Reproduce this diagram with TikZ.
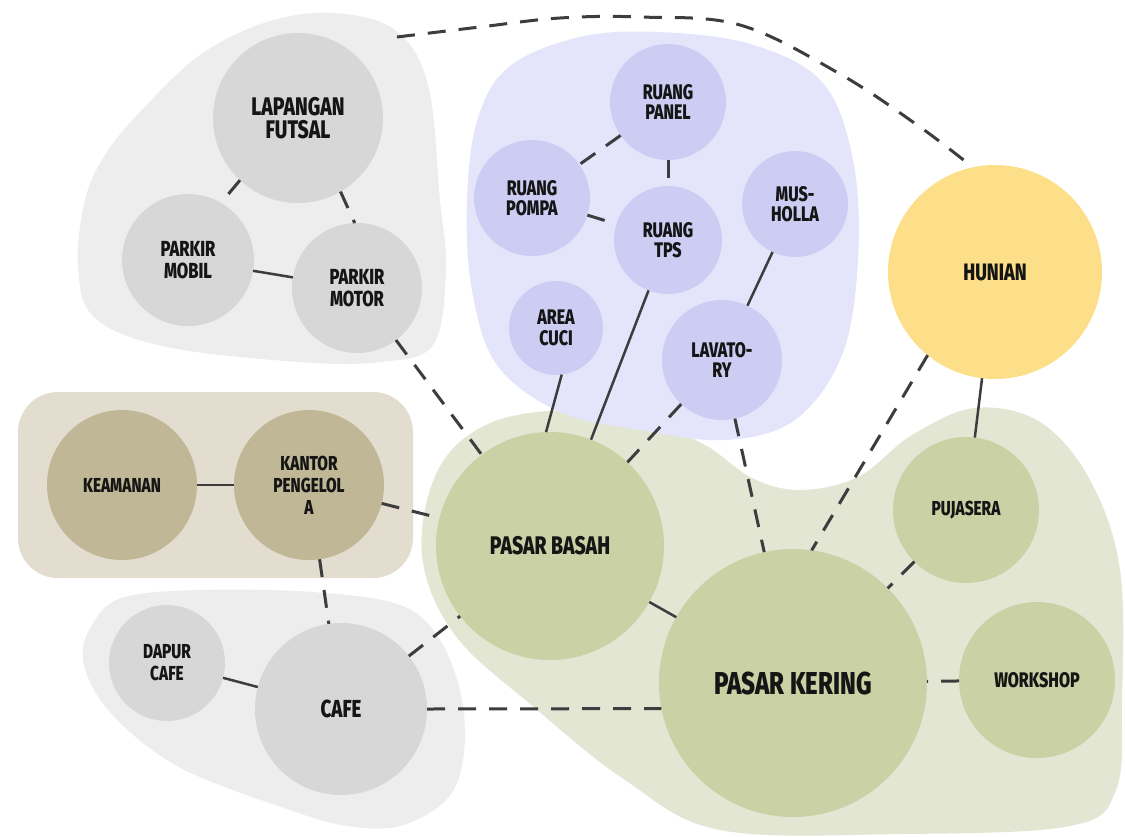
\documentclass[tikz,border=0pt]{standalone}
\usepackage{fontspec}
\newfontfamily\lab{Fira Sans}[FakeStretch=0.76, BoldFont={* ExtraBold}]
\definecolor{greyblob}{HTML}{EDEDED}
\definecolor{greycirc}{HTML}{D7D7D7}
\definecolor{blueblob}{HTML}{E4E4FB}
\definecolor{bluecirc}{HTML}{CDCDF4}
\definecolor{tanbox}{HTML}{E2DDCF}
\definecolor{tancirc}{HTML}{BFB795}
\definecolor{greenblob}{HTML}{E2E6D3}
\definecolor{greencirc}{HTML}{CAD2A5}
\definecolor{yellowcirc}{HTML}{FDDF8A}
\definecolor{txt}{HTML}{151515}
\definecolor{lc}{HTML}{3D3D3D}
\begin{document}
\begin{tikzpicture}[x=0.2mm,y=-0.2mm,
  bub/.style={circle, inner sep=0pt, outer sep=0pt, align=center, text=txt},
  rad/.style={minimum size=#1*0.4mm},
  fsS/.style={font=\lab\bfseries\fontsize{12}{11.6}\selectfont},
  fsM/.style={font=\lab\bfseries\fontsize{12.4}{12.6}\selectfont},
  fsL/.style={font=\lab\bfseries\fontsize{14.5}{13.5}\selectfont},
  fsXL/.style={font=\lab\bfseries\fontsize{18}{18}\selectfont},
  grey/.style={bub, fill=greycirc},
  blue/.style={bub, fill=bluecirc},
  tan/.style={bub, fill=tancirc},
  green/.style={bub, fill=greencirc},
  yellow/.style={bub, fill=yellowcirc},
  conn/.style={draw=lc, line width=0.5mm},
  dsh/.style={draw=lc, line width=0.6mm, dash pattern=on 3.6mm off 2.6mm}]
\useasboundingbox (0,0) rectangle (1125,836);
\fill[white] (0,0) rectangle (1125,836);

% zones
\fill[greenblob] plot[smooth cycle, tension=0.6] coordinates {(422,555) (438,470) (488,424) (567,410) (645,420) (705,445) (752,478) (800,490) (858,477) (912,435) (975,408) (1040,422) (1090,480) (1120,570) (1122,700) (1116,790) (1070,826) (900,834) (720,830) (625,780) (535,708) (455,635)};
\fill[blueblob] plot[smooth cycle, tension=0.6] coordinates {(467,200) (478,118) (510,66) (580,37) (657,32) (750,44) (822,82) (853,160) (858,260) (842,355) (795,420) (725,440) (640,430) (560,412) (497,365) (472,290)};
\fill[greyblob] plot[smooth cycle, tension=0.6] coordinates {(78,267) (85,200) (105,155) (140,112) (200,55) (267,22) (333,13) (395,30) (428,85) (440,200) (446,270) (433,345) (380,362) (300,362) (167,347) (95,318)};
\fill[greyblob] plot[smooth cycle, tension=0.6] coordinates {(83,660) (95,620) (125,597) (200,590) (312,592) (400,605) (440,640) (462,700) (463,760) (446,800) (400,826) (348,826) (290,810) (179,767) (110,712)};
\fill[tanbox, rounded corners=8mm] (18,392) rectangle (413,578);

% rooms
\node[grey, rad=85, fsL] (lf) at (298,118) {LAPANGAN\\FUTSAL};
\node[grey, rad=66, fsM] (pmob) at (188,260) {PARKIR\\MOBIL};
\node[grey, rad=65, fsM] (pmot) at (357,288) {PARKIR\\MOTOR};
\node[blue, rad=58, fsS] (panel) at (668,102) {RUANG\\PANEL};
\node[blue, rad=58, fsS] (pompa) at (532,198) {RUANG\\POMPA};
\node[blue, rad=54, fsS] (tps) at (668,240) {RUANG\\TPS};
\node[blue, rad=53, fsS] (mus) at (795,204) {MUS-\\HOLLA};
\node[blue, rad=47, fsS] (cuci) at (556,328) {AREA\\CUCI};
\node[blue, rad=60, fsS] (lav) at (722,360) {LAVATO-\\RY};
\node[yellow, rad=107, font=\lab\bfseries\fontsize{13.5}{14}\selectfont] (hun) at (995,272) {HUNIAN};
\node[tan, rad=75, font=\lab\bfseries\fontsize{11.5}{12.5}\selectfont] (kea) at (122,485) {KEAMANAN};
\node[tan, rad=75, font=\lab\bfseries\fontsize{11.5}{12.5}\selectfont] (kan) at (309,485) {KANTOR\\PENGELOL\\A};
\node[green, rad=114, fsL] (pb) at (550,546) {PASAR BASAH};
\node[grey, rad=58, font=\lab\bfseries\fontsize{11.5}{12.5}\selectfont] (dap) at (167,663) {DAPUR\\CAFE};
\node[grey, rad=86, font=\lab\bfseries\fontsize{14}{14}\selectfont] (cafe) at (341,709) {CAFE};
\node[green, rad=134, fsXL] (pk) at (793,683) {PASAR KERING};
\node[green, rad=73, font=\lab\bfseries\fontsize{11.5}{12}\selectfont] (puj) at (966,510) {PUJASERA};
\node[green, rad=78, font=\lab\bfseries\fontsize{12}{12}\selectfont] (work) at (1037,680) {WORKSHOP};

% connectors
\coordinate (cstart) at (397,37);
\draw[dsh] plot[smooth, tension=0.6] coordinates {(cstart) (480,27) (560,18) (640,17) (740,25) (840,74) (920,127) (hun.102)};

\draw[conn] (pmob) -- (pmot);
\draw[dsh] (lf.227) -- (pmob.60);
\draw[dsh] (lf.-60) -- (pmot.92);
\draw[dsh] (pmot) -- (pb);

\draw[dsh] (panel) -- (pompa);
\draw[dsh] (panel) -- (tps);
\draw[dsh] (pompa) -- (tps);
\draw[conn] (tps) -- (pb);
\draw[conn] (cuci.-83) -- (pb.92);
\draw[conn] (mus) -- (lav);
\draw[dsh] (lav) -- (pb);
\draw[dsh] (lav) -- (pk);

\draw[conn] (hun) -- (puj);
\draw[dsh] (hun.231) -- (pk.82);
\draw[dsh] (puj) -- (pk);
\draw[dsh] (work) -- (pk);
\draw[conn] (pb) -- (pk);

\draw[conn] (kea) -- (kan);
\draw[dsh] (kan) -- (pb);
\draw[dsh] (kan) -- (cafe);
\draw[conn] (dap) -- (cafe);
\draw[dsh] (cafe) -- (pb);
\draw[dsh] (cafe.east) -- (pk.191);
\end{tikzpicture}
\end{document}
